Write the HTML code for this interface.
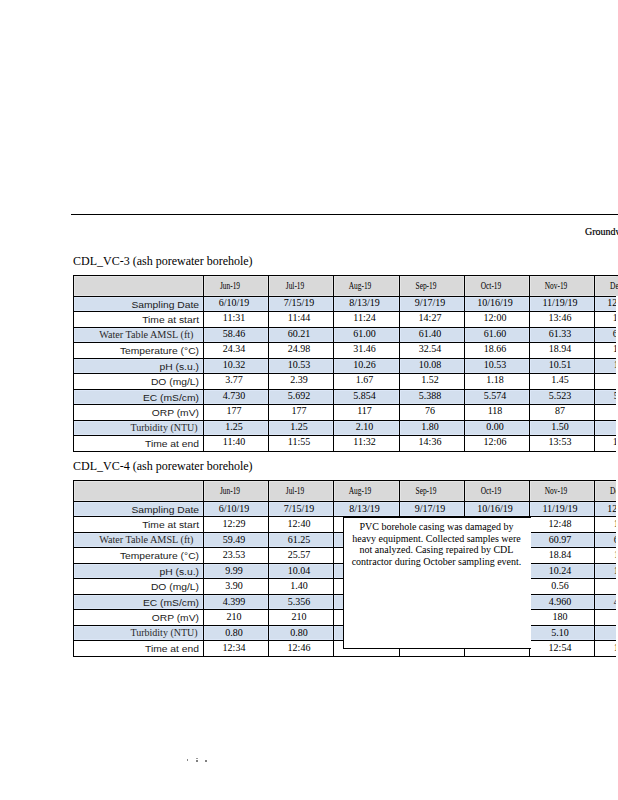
<!DOCTYPE html>
<html><head><meta charset="utf-8"><style>
html,body{margin:0;padding:0;background:#fff;}
body{width:618px;height:800px;position:relative;overflow:hidden;}
.t{position:absolute;white-space:nowrap;line-height:normal;color:#000;}
.clip{position:absolute;left:0;top:0;width:616px;height:800px;overflow:hidden;}
</style></head><body>
<div style="position:absolute;left:71px;top:214px;width:547px;height:1px;background:#000"></div>
<div class="t" style="left:585px;top:226.09px;font-family:'Liberation Serif', serif;font-size:10px;-webkit-text-stroke:0.2px #000;">Groundwater</div>
<div class="t" style="left:73px;top:253.91px;font-family:'Liberation Serif', serif;font-size:12px;">CDL_VC-3 (ash porewater borehole)</div>
<div class="t" style="left:73px;top:458.81px;font-family:'Liberation Serif', serif;font-size:12px;">CDL_VC-4 (ash porewater borehole)</div>
<svg style="position:absolute;left:0;top:0" width="618" height="800" shape-rendering="crispEdges">
<rect x="74" y="276" width="544" height="20" fill="#d9d9d9"/>
<rect x="73" y="275" width="545" height="1" fill="#000"/>
</svg>
<div class="clip">
<svg style="position:absolute;left:0;top:0" width="618" height="800" shape-rendering="crispEdges">
<rect x="74" y="276" width="129" height="20" fill="#e4e4e4"/>
<rect x="75" y="277" width="127" height="18" fill="#d9d9d9"/>
<rect x="74" y="297" width="129" height="14" fill="#dce7f7"/>
<rect x="75" y="298" width="127" height="12" fill="#d3dfee"/>
<rect x="74" y="328" width="129" height="14" fill="#dce7f7"/>
<rect x="75" y="329" width="127" height="12" fill="#d3dfee"/>
<rect x="74" y="359" width="129" height="14" fill="#dce7f7"/>
<rect x="75" y="360" width="127" height="12" fill="#d3dfee"/>
<rect x="74" y="390" width="129" height="14" fill="#dce7f7"/>
<rect x="75" y="391" width="127" height="12" fill="#d3dfee"/>
<rect x="74" y="421" width="129" height="14" fill="#dce7f7"/>
<rect x="75" y="422" width="127" height="12" fill="#d3dfee"/>
<rect x="204" y="276" width="64" height="20" fill="#e4e4e4"/>
<rect x="205" y="277" width="62" height="18" fill="#d9d9d9"/>
<rect x="204" y="297" width="64" height="14" fill="#dce7f7"/>
<rect x="205" y="298" width="62" height="12" fill="#d3dfee"/>
<rect x="204" y="328" width="64" height="14" fill="#dce7f7"/>
<rect x="205" y="329" width="62" height="12" fill="#d3dfee"/>
<rect x="204" y="359" width="64" height="14" fill="#dce7f7"/>
<rect x="205" y="360" width="62" height="12" fill="#d3dfee"/>
<rect x="204" y="390" width="64" height="14" fill="#dce7f7"/>
<rect x="205" y="391" width="62" height="12" fill="#d3dfee"/>
<rect x="204" y="421" width="64" height="14" fill="#dce7f7"/>
<rect x="205" y="422" width="62" height="12" fill="#d3dfee"/>
<rect x="269" y="276" width="64" height="20" fill="#e4e4e4"/>
<rect x="270" y="277" width="62" height="18" fill="#d9d9d9"/>
<rect x="269" y="297" width="64" height="14" fill="#dce7f7"/>
<rect x="270" y="298" width="62" height="12" fill="#d3dfee"/>
<rect x="269" y="328" width="64" height="14" fill="#dce7f7"/>
<rect x="270" y="329" width="62" height="12" fill="#d3dfee"/>
<rect x="269" y="359" width="64" height="14" fill="#dce7f7"/>
<rect x="270" y="360" width="62" height="12" fill="#d3dfee"/>
<rect x="269" y="390" width="64" height="14" fill="#dce7f7"/>
<rect x="270" y="391" width="62" height="12" fill="#d3dfee"/>
<rect x="269" y="421" width="64" height="14" fill="#dce7f7"/>
<rect x="270" y="422" width="62" height="12" fill="#d3dfee"/>
<rect x="334" y="276" width="65" height="20" fill="#e4e4e4"/>
<rect x="335" y="277" width="63" height="18" fill="#d9d9d9"/>
<rect x="334" y="297" width="65" height="14" fill="#dce7f7"/>
<rect x="335" y="298" width="63" height="12" fill="#d3dfee"/>
<rect x="334" y="328" width="65" height="14" fill="#dce7f7"/>
<rect x="335" y="329" width="63" height="12" fill="#d3dfee"/>
<rect x="334" y="359" width="65" height="14" fill="#dce7f7"/>
<rect x="335" y="360" width="63" height="12" fill="#d3dfee"/>
<rect x="334" y="390" width="65" height="14" fill="#dce7f7"/>
<rect x="335" y="391" width="63" height="12" fill="#d3dfee"/>
<rect x="334" y="421" width="65" height="14" fill="#dce7f7"/>
<rect x="335" y="422" width="63" height="12" fill="#d3dfee"/>
<rect x="400" y="276" width="64" height="20" fill="#e4e4e4"/>
<rect x="401" y="277" width="62" height="18" fill="#d9d9d9"/>
<rect x="400" y="297" width="64" height="14" fill="#dce7f7"/>
<rect x="401" y="298" width="62" height="12" fill="#d3dfee"/>
<rect x="400" y="328" width="64" height="14" fill="#dce7f7"/>
<rect x="401" y="329" width="62" height="12" fill="#d3dfee"/>
<rect x="400" y="359" width="64" height="14" fill="#dce7f7"/>
<rect x="401" y="360" width="62" height="12" fill="#d3dfee"/>
<rect x="400" y="390" width="64" height="14" fill="#dce7f7"/>
<rect x="401" y="391" width="62" height="12" fill="#d3dfee"/>
<rect x="400" y="421" width="64" height="14" fill="#dce7f7"/>
<rect x="401" y="422" width="62" height="12" fill="#d3dfee"/>
<rect x="465" y="276" width="64" height="20" fill="#e4e4e4"/>
<rect x="466" y="277" width="62" height="18" fill="#d9d9d9"/>
<rect x="465" y="297" width="64" height="14" fill="#dce7f7"/>
<rect x="466" y="298" width="62" height="12" fill="#d3dfee"/>
<rect x="465" y="328" width="64" height="14" fill="#dce7f7"/>
<rect x="466" y="329" width="62" height="12" fill="#d3dfee"/>
<rect x="465" y="359" width="64" height="14" fill="#dce7f7"/>
<rect x="466" y="360" width="62" height="12" fill="#d3dfee"/>
<rect x="465" y="390" width="64" height="14" fill="#dce7f7"/>
<rect x="466" y="391" width="62" height="12" fill="#d3dfee"/>
<rect x="465" y="421" width="64" height="14" fill="#dce7f7"/>
<rect x="466" y="422" width="62" height="12" fill="#d3dfee"/>
<rect x="530" y="276" width="64" height="20" fill="#e4e4e4"/>
<rect x="531" y="277" width="62" height="18" fill="#d9d9d9"/>
<rect x="530" y="297" width="64" height="14" fill="#dce7f7"/>
<rect x="531" y="298" width="62" height="12" fill="#d3dfee"/>
<rect x="530" y="328" width="64" height="14" fill="#dce7f7"/>
<rect x="531" y="329" width="62" height="12" fill="#d3dfee"/>
<rect x="530" y="359" width="64" height="14" fill="#dce7f7"/>
<rect x="531" y="360" width="62" height="12" fill="#d3dfee"/>
<rect x="530" y="390" width="64" height="14" fill="#dce7f7"/>
<rect x="531" y="391" width="62" height="12" fill="#d3dfee"/>
<rect x="530" y="421" width="64" height="14" fill="#dce7f7"/>
<rect x="531" y="422" width="62" height="12" fill="#d3dfee"/>
<rect x="595" y="276" width="64" height="20" fill="#e4e4e4"/>
<rect x="596" y="277" width="62" height="18" fill="#d9d9d9"/>
<rect x="595" y="297" width="64" height="14" fill="#dce7f7"/>
<rect x="596" y="298" width="62" height="12" fill="#d3dfee"/>
<rect x="595" y="328" width="64" height="14" fill="#dce7f7"/>
<rect x="596" y="329" width="62" height="12" fill="#d3dfee"/>
<rect x="595" y="359" width="64" height="14" fill="#dce7f7"/>
<rect x="596" y="360" width="62" height="12" fill="#d3dfee"/>
<rect x="595" y="390" width="64" height="14" fill="#dce7f7"/>
<rect x="596" y="391" width="62" height="12" fill="#d3dfee"/>
<rect x="595" y="421" width="64" height="14" fill="#dce7f7"/>
<rect x="596" y="422" width="62" height="12" fill="#d3dfee"/>
<rect x="73" y="275" width="587" height="1" fill="#000"/>
<rect x="73" y="296" width="587" height="1" fill="#000"/>
<rect x="73" y="311" width="587" height="1" fill="#000"/>
<rect x="73" y="327" width="587" height="1" fill="#000"/>
<rect x="73" y="342" width="587" height="1" fill="#000"/>
<rect x="73" y="358" width="587" height="1" fill="#000"/>
<rect x="73" y="373" width="587" height="1" fill="#000"/>
<rect x="73" y="389" width="587" height="1" fill="#000"/>
<rect x="73" y="404" width="587" height="1" fill="#000"/>
<rect x="73" y="420" width="587" height="1" fill="#000"/>
<rect x="73" y="435" width="587" height="1" fill="#000"/>
<rect x="73" y="451" width="587" height="1" fill="#000"/>
<rect x="73" y="275" width="1" height="177" fill="#000"/>
<rect x="203" y="275" width="1" height="177" fill="#000"/>
<rect x="268" y="275" width="1" height="177" fill="#000"/>
<rect x="333" y="275" width="1" height="177" fill="#000"/>
<rect x="399" y="275" width="1" height="177" fill="#000"/>
<rect x="464" y="275" width="1" height="177" fill="#000"/>
<rect x="529" y="275" width="1" height="177" fill="#000"/>
<rect x="594" y="275" width="1" height="177" fill="#000"/>
<rect x="659" y="275" width="1" height="177" fill="#000"/>
<rect x="74" y="481" width="129" height="20" fill="#e4e4e4"/>
<rect x="75" y="482" width="127" height="18" fill="#d9d9d9"/>
<rect x="74" y="502" width="129" height="14" fill="#dce7f7"/>
<rect x="75" y="503" width="127" height="12" fill="#d3dfee"/>
<rect x="74" y="533" width="129" height="14" fill="#dce7f7"/>
<rect x="75" y="534" width="127" height="12" fill="#d3dfee"/>
<rect x="74" y="564" width="129" height="14" fill="#dce7f7"/>
<rect x="75" y="565" width="127" height="12" fill="#d3dfee"/>
<rect x="74" y="595" width="129" height="14" fill="#dce7f7"/>
<rect x="75" y="596" width="127" height="12" fill="#d3dfee"/>
<rect x="74" y="626" width="129" height="14" fill="#dce7f7"/>
<rect x="75" y="627" width="127" height="12" fill="#d3dfee"/>
<rect x="204" y="481" width="64" height="20" fill="#e4e4e4"/>
<rect x="205" y="482" width="62" height="18" fill="#d9d9d9"/>
<rect x="204" y="502" width="64" height="14" fill="#dce7f7"/>
<rect x="205" y="503" width="62" height="12" fill="#d3dfee"/>
<rect x="204" y="533" width="64" height="14" fill="#dce7f7"/>
<rect x="205" y="534" width="62" height="12" fill="#d3dfee"/>
<rect x="204" y="564" width="64" height="14" fill="#dce7f7"/>
<rect x="205" y="565" width="62" height="12" fill="#d3dfee"/>
<rect x="204" y="595" width="64" height="14" fill="#dce7f7"/>
<rect x="205" y="596" width="62" height="12" fill="#d3dfee"/>
<rect x="204" y="626" width="64" height="14" fill="#dce7f7"/>
<rect x="205" y="627" width="62" height="12" fill="#d3dfee"/>
<rect x="269" y="481" width="64" height="20" fill="#e4e4e4"/>
<rect x="270" y="482" width="62" height="18" fill="#d9d9d9"/>
<rect x="269" y="502" width="64" height="14" fill="#dce7f7"/>
<rect x="270" y="503" width="62" height="12" fill="#d3dfee"/>
<rect x="269" y="533" width="64" height="14" fill="#dce7f7"/>
<rect x="270" y="534" width="62" height="12" fill="#d3dfee"/>
<rect x="269" y="564" width="64" height="14" fill="#dce7f7"/>
<rect x="270" y="565" width="62" height="12" fill="#d3dfee"/>
<rect x="269" y="595" width="64" height="14" fill="#dce7f7"/>
<rect x="270" y="596" width="62" height="12" fill="#d3dfee"/>
<rect x="269" y="626" width="64" height="14" fill="#dce7f7"/>
<rect x="270" y="627" width="62" height="12" fill="#d3dfee"/>
<rect x="334" y="481" width="65" height="20" fill="#e4e4e4"/>
<rect x="335" y="482" width="63" height="18" fill="#d9d9d9"/>
<rect x="334" y="502" width="65" height="14" fill="#dce7f7"/>
<rect x="335" y="503" width="63" height="12" fill="#d3dfee"/>
<rect x="334" y="533" width="65" height="14" fill="#dce7f7"/>
<rect x="335" y="534" width="63" height="12" fill="#d3dfee"/>
<rect x="334" y="564" width="65" height="14" fill="#dce7f7"/>
<rect x="335" y="565" width="63" height="12" fill="#d3dfee"/>
<rect x="334" y="595" width="65" height="14" fill="#dce7f7"/>
<rect x="335" y="596" width="63" height="12" fill="#d3dfee"/>
<rect x="334" y="626" width="65" height="14" fill="#dce7f7"/>
<rect x="335" y="627" width="63" height="12" fill="#d3dfee"/>
<rect x="400" y="481" width="64" height="20" fill="#e4e4e4"/>
<rect x="401" y="482" width="62" height="18" fill="#d9d9d9"/>
<rect x="400" y="502" width="64" height="14" fill="#dce7f7"/>
<rect x="401" y="503" width="62" height="12" fill="#d3dfee"/>
<rect x="400" y="533" width="64" height="14" fill="#dce7f7"/>
<rect x="401" y="534" width="62" height="12" fill="#d3dfee"/>
<rect x="400" y="564" width="64" height="14" fill="#dce7f7"/>
<rect x="401" y="565" width="62" height="12" fill="#d3dfee"/>
<rect x="400" y="595" width="64" height="14" fill="#dce7f7"/>
<rect x="401" y="596" width="62" height="12" fill="#d3dfee"/>
<rect x="400" y="626" width="64" height="14" fill="#dce7f7"/>
<rect x="401" y="627" width="62" height="12" fill="#d3dfee"/>
<rect x="465" y="481" width="64" height="20" fill="#e4e4e4"/>
<rect x="466" y="482" width="62" height="18" fill="#d9d9d9"/>
<rect x="465" y="502" width="64" height="14" fill="#dce7f7"/>
<rect x="466" y="503" width="62" height="12" fill="#d3dfee"/>
<rect x="465" y="533" width="64" height="14" fill="#dce7f7"/>
<rect x="466" y="534" width="62" height="12" fill="#d3dfee"/>
<rect x="465" y="564" width="64" height="14" fill="#dce7f7"/>
<rect x="466" y="565" width="62" height="12" fill="#d3dfee"/>
<rect x="465" y="595" width="64" height="14" fill="#dce7f7"/>
<rect x="466" y="596" width="62" height="12" fill="#d3dfee"/>
<rect x="465" y="626" width="64" height="14" fill="#dce7f7"/>
<rect x="466" y="627" width="62" height="12" fill="#d3dfee"/>
<rect x="530" y="481" width="64" height="20" fill="#e4e4e4"/>
<rect x="531" y="482" width="62" height="18" fill="#d9d9d9"/>
<rect x="530" y="502" width="64" height="14" fill="#dce7f7"/>
<rect x="531" y="503" width="62" height="12" fill="#d3dfee"/>
<rect x="530" y="533" width="64" height="14" fill="#dce7f7"/>
<rect x="531" y="534" width="62" height="12" fill="#d3dfee"/>
<rect x="530" y="564" width="64" height="14" fill="#dce7f7"/>
<rect x="531" y="565" width="62" height="12" fill="#d3dfee"/>
<rect x="530" y="595" width="64" height="14" fill="#dce7f7"/>
<rect x="531" y="596" width="62" height="12" fill="#d3dfee"/>
<rect x="530" y="626" width="64" height="14" fill="#dce7f7"/>
<rect x="531" y="627" width="62" height="12" fill="#d3dfee"/>
<rect x="595" y="481" width="64" height="20" fill="#e4e4e4"/>
<rect x="596" y="482" width="62" height="18" fill="#d9d9d9"/>
<rect x="595" y="502" width="64" height="14" fill="#dce7f7"/>
<rect x="596" y="503" width="62" height="12" fill="#d3dfee"/>
<rect x="595" y="533" width="64" height="14" fill="#dce7f7"/>
<rect x="596" y="534" width="62" height="12" fill="#d3dfee"/>
<rect x="595" y="564" width="64" height="14" fill="#dce7f7"/>
<rect x="596" y="565" width="62" height="12" fill="#d3dfee"/>
<rect x="595" y="595" width="64" height="14" fill="#dce7f7"/>
<rect x="596" y="596" width="62" height="12" fill="#d3dfee"/>
<rect x="595" y="626" width="64" height="14" fill="#dce7f7"/>
<rect x="596" y="627" width="62" height="12" fill="#d3dfee"/>
<rect x="73" y="480" width="587" height="1" fill="#000"/>
<rect x="73" y="501" width="587" height="1" fill="#000"/>
<rect x="73" y="516" width="587" height="1" fill="#000"/>
<rect x="73" y="532" width="587" height="1" fill="#000"/>
<rect x="73" y="547" width="587" height="1" fill="#000"/>
<rect x="73" y="563" width="587" height="1" fill="#000"/>
<rect x="73" y="578" width="587" height="1" fill="#000"/>
<rect x="73" y="594" width="587" height="1" fill="#000"/>
<rect x="73" y="609" width="587" height="1" fill="#000"/>
<rect x="73" y="625" width="587" height="1" fill="#000"/>
<rect x="73" y="640" width="587" height="1" fill="#000"/>
<rect x="73" y="656" width="587" height="1" fill="#000"/>
<rect x="73" y="480" width="1" height="177" fill="#000"/>
<rect x="203" y="480" width="1" height="177" fill="#000"/>
<rect x="268" y="480" width="1" height="177" fill="#000"/>
<rect x="333" y="480" width="1" height="177" fill="#000"/>
<rect x="399" y="480" width="1" height="177" fill="#000"/>
<rect x="464" y="480" width="1" height="177" fill="#000"/>
<rect x="529" y="480" width="1" height="177" fill="#000"/>
<rect x="594" y="480" width="1" height="177" fill="#000"/>
<rect x="659" y="480" width="1" height="177" fill="#000"/>
<rect x="343" y="516" width="188" height="133" fill="#fff"/>
<rect x="343" y="516" width="1" height="133" fill="#000"/>
<rect x="343" y="516" width="188" height="2" fill="#000"/>
<rect x="343" y="648" width="188" height="1" fill="#000"/>
</svg>
<div class="t" style="left:-101.19999999999999px;width:300px;top:297.45px;padding-top:2px;color:#1a1a1a"><div style="text-align:right;font-family:'Liberation Sans', sans-serif;font-size:10.0px;transform:scale(1.03,0.92);transform-origin:100% 9.05px">Sampling Date</div></div>
<div class="t" style="left:134.0px;width:200px;text-align:center;top:297.09px;font-family:'Liberation Serif', serif;font-size:10px;">6/10/19</div>
<div class="t" style="left:199.0px;width:200px;text-align:center;top:297.09px;font-family:'Liberation Serif', serif;font-size:10px;">7/15/19</div>
<div class="t" style="left:264.5px;width:200px;text-align:center;top:297.09px;font-family:'Liberation Serif', serif;font-size:10px;">8/13/19</div>
<div class="t" style="left:330.0px;width:200px;text-align:center;top:297.09px;font-family:'Liberation Serif', serif;font-size:10px;">9/17/19</div>
<div class="t" style="left:395.0px;width:200px;text-align:center;top:297.09px;font-family:'Liberation Serif', serif;font-size:10px;">10/16/19</div>
<div class="t" style="left:460.0px;width:200px;text-align:center;top:297.09px;font-family:'Liberation Serif', serif;font-size:10px;">11/19/19</div>
<div class="t" style="left:525.0px;width:200px;text-align:center;top:297.09px;font-family:'Liberation Serif', serif;font-size:10px;">12/10/19</div>
<div class="t" style="left:-101.19999999999999px;width:300px;top:312.45px;padding-top:2px;color:#1a1a1a"><div style="text-align:right;font-family:'Liberation Sans', sans-serif;font-size:10.0px;transform:scale(1.03,0.92);transform-origin:100% 9.05px">Time at start</div></div>
<div class="t" style="left:134.0px;width:200px;text-align:center;top:312.09px;font-family:'Liberation Serif', serif;font-size:10px;">11:31</div>
<div class="t" style="left:199.0px;width:200px;text-align:center;top:312.09px;font-family:'Liberation Serif', serif;font-size:10px;">11:44</div>
<div class="t" style="left:264.5px;width:200px;text-align:center;top:312.09px;font-family:'Liberation Serif', serif;font-size:10px;">11:24</div>
<div class="t" style="left:330.0px;width:200px;text-align:center;top:312.09px;font-family:'Liberation Serif', serif;font-size:10px;">14:27</div>
<div class="t" style="left:395.0px;width:200px;text-align:center;top:312.09px;font-family:'Liberation Serif', serif;font-size:10px;">12:00</div>
<div class="t" style="left:460.0px;width:200px;text-align:center;top:312.09px;font-family:'Liberation Serif', serif;font-size:10px;">13:46</div>
<div class="t" style="left:524.0px;width:200px;text-align:center;top:312.09px;font-family:'Liberation Serif', serif;font-size:10px;">11:40</div>
<div class="t" style="left:-106.5px;width:300px;text-align:right;top:328.61px;font-family:'Liberation Serif', serif;font-size:10.2px;color:#2a2a2a;">Water Table AMSL (ft)</div>
<div class="t" style="left:134.0px;width:200px;text-align:center;top:328.09px;font-family:'Liberation Serif', serif;font-size:10px;">58.46</div>
<div class="t" style="left:199.0px;width:200px;text-align:center;top:328.09px;font-family:'Liberation Serif', serif;font-size:10px;">60.21</div>
<div class="t" style="left:264.5px;width:200px;text-align:center;top:328.09px;font-family:'Liberation Serif', serif;font-size:10px;">61.00</div>
<div class="t" style="left:330.0px;width:200px;text-align:center;top:328.09px;font-family:'Liberation Serif', serif;font-size:10px;">61.40</div>
<div class="t" style="left:395.0px;width:200px;text-align:center;top:328.09px;font-family:'Liberation Serif', serif;font-size:10px;">61.60</div>
<div class="t" style="left:460.0px;width:200px;text-align:center;top:328.09px;font-family:'Liberation Serif', serif;font-size:10px;">61.33</div>
<div class="t" style="left:524.0px;width:200px;text-align:center;top:328.09px;font-family:'Liberation Serif', serif;font-size:10px;">61.20</div>
<div class="t" style="left:-101.19999999999999px;width:300px;top:343.45px;padding-top:2px;color:#1a1a1a"><div style="text-align:right;font-family:'Liberation Sans', sans-serif;font-size:10.0px;transform:scale(1.03,0.92);transform-origin:100% 9.05px">Temperature (°C)</div></div>
<div class="t" style="left:134.0px;width:200px;text-align:center;top:343.09px;font-family:'Liberation Serif', serif;font-size:10px;">24.34</div>
<div class="t" style="left:199.0px;width:200px;text-align:center;top:343.09px;font-family:'Liberation Serif', serif;font-size:10px;">24.98</div>
<div class="t" style="left:264.5px;width:200px;text-align:center;top:343.09px;font-family:'Liberation Serif', serif;font-size:10px;">31.46</div>
<div class="t" style="left:330.0px;width:200px;text-align:center;top:343.09px;font-family:'Liberation Serif', serif;font-size:10px;">32.54</div>
<div class="t" style="left:395.0px;width:200px;text-align:center;top:343.09px;font-family:'Liberation Serif', serif;font-size:10px;">18.66</div>
<div class="t" style="left:460.0px;width:200px;text-align:center;top:343.09px;font-family:'Liberation Serif', serif;font-size:10px;">18.94</div>
<div class="t" style="left:524.0px;width:200px;text-align:center;top:343.09px;font-family:'Liberation Serif', serif;font-size:10px;">11.50</div>
<div class="t" style="left:-101.19999999999999px;width:300px;top:359.45px;padding-top:2px;color:#1a1a1a"><div style="text-align:right;font-family:'Liberation Sans', sans-serif;font-size:10.0px;transform:scale(1.03,0.92);transform-origin:100% 9.05px">pH (s.u.)</div></div>
<div class="t" style="left:134.0px;width:200px;text-align:center;top:359.09px;font-family:'Liberation Serif', serif;font-size:10px;">10.32</div>
<div class="t" style="left:199.0px;width:200px;text-align:center;top:359.09px;font-family:'Liberation Serif', serif;font-size:10px;">10.53</div>
<div class="t" style="left:264.5px;width:200px;text-align:center;top:359.09px;font-family:'Liberation Serif', serif;font-size:10px;">10.26</div>
<div class="t" style="left:330.0px;width:200px;text-align:center;top:359.09px;font-family:'Liberation Serif', serif;font-size:10px;">10.08</div>
<div class="t" style="left:395.0px;width:200px;text-align:center;top:359.09px;font-family:'Liberation Serif', serif;font-size:10px;">10.53</div>
<div class="t" style="left:460.0px;width:200px;text-align:center;top:359.09px;font-family:'Liberation Serif', serif;font-size:10px;">10.51</div>
<div class="t" style="left:525.0px;width:200px;text-align:center;top:359.09px;font-family:'Liberation Serif', serif;font-size:10px;">10.40</div>
<div class="t" style="left:-101.19999999999999px;width:300px;top:374.45px;padding-top:2px;color:#1a1a1a"><div style="text-align:right;font-family:'Liberation Sans', sans-serif;font-size:10.0px;transform:scale(1.03,0.92);transform-origin:100% 9.05px">DO (mg/L)</div></div>
<div class="t" style="left:134.0px;width:200px;text-align:center;top:374.09px;font-family:'Liberation Serif', serif;font-size:10px;">3.77</div>
<div class="t" style="left:199.0px;width:200px;text-align:center;top:374.09px;font-family:'Liberation Serif', serif;font-size:10px;">2.39</div>
<div class="t" style="left:264.5px;width:200px;text-align:center;top:374.09px;font-family:'Liberation Serif', serif;font-size:10px;">1.67</div>
<div class="t" style="left:330.0px;width:200px;text-align:center;top:374.09px;font-family:'Liberation Serif', serif;font-size:10px;">1.52</div>
<div class="t" style="left:395.0px;width:200px;text-align:center;top:374.09px;font-family:'Liberation Serif', serif;font-size:10px;">1.18</div>
<div class="t" style="left:460.0px;width:200px;text-align:center;top:374.09px;font-family:'Liberation Serif', serif;font-size:10px;">1.45</div>
<div class="t" style="left:-101.19999999999999px;width:300px;top:390.45px;padding-top:2px;color:#1a1a1a"><div style="text-align:right;font-family:'Liberation Sans', sans-serif;font-size:10.0px;transform:scale(1.03,0.92);transform-origin:100% 9.05px">EC (mS/cm)</div></div>
<div class="t" style="left:134.0px;width:200px;text-align:center;top:390.09px;font-family:'Liberation Serif', serif;font-size:10px;">4.730</div>
<div class="t" style="left:199.0px;width:200px;text-align:center;top:390.09px;font-family:'Liberation Serif', serif;font-size:10px;">5.692</div>
<div class="t" style="left:264.5px;width:200px;text-align:center;top:390.09px;font-family:'Liberation Serif', serif;font-size:10px;">5.854</div>
<div class="t" style="left:330.0px;width:200px;text-align:center;top:390.09px;font-family:'Liberation Serif', serif;font-size:10px;">5.388</div>
<div class="t" style="left:395.0px;width:200px;text-align:center;top:390.09px;font-family:'Liberation Serif', serif;font-size:10px;">5.574</div>
<div class="t" style="left:460.0px;width:200px;text-align:center;top:390.09px;font-family:'Liberation Serif', serif;font-size:10px;">5.523</div>
<div class="t" style="left:525.0px;width:200px;text-align:center;top:390.09px;font-family:'Liberation Serif', serif;font-size:10px;">5.400</div>
<div class="t" style="left:-101.19999999999999px;width:300px;top:405.45px;padding-top:2px;color:#1a1a1a"><div style="text-align:right;font-family:'Liberation Sans', sans-serif;font-size:10.0px;transform:scale(1.03,0.92);transform-origin:100% 9.05px">ORP (mV)</div></div>
<div class="t" style="left:134.0px;width:200px;text-align:center;top:405.09px;font-family:'Liberation Serif', serif;font-size:10px;">177</div>
<div class="t" style="left:199.0px;width:200px;text-align:center;top:405.09px;font-family:'Liberation Serif', serif;font-size:10px;">177</div>
<div class="t" style="left:264.5px;width:200px;text-align:center;top:405.09px;font-family:'Liberation Serif', serif;font-size:10px;">117</div>
<div class="t" style="left:330.0px;width:200px;text-align:center;top:405.09px;font-family:'Liberation Serif', serif;font-size:10px;">76</div>
<div class="t" style="left:395.0px;width:200px;text-align:center;top:405.09px;font-family:'Liberation Serif', serif;font-size:10px;">118</div>
<div class="t" style="left:460.0px;width:200px;text-align:center;top:405.09px;font-family:'Liberation Serif', serif;font-size:10px;">87</div>
<div class="t" style="left:-102.4px;width:300px;text-align:right;top:422.39px;font-family:'Liberation Serif', serif;font-size:10px;color:#2a2a2a;">Turbidity (NTU)</div>
<div class="t" style="left:134.0px;width:200px;text-align:center;top:421.09px;font-family:'Liberation Serif', serif;font-size:10px;">1.25</div>
<div class="t" style="left:199.0px;width:200px;text-align:center;top:421.09px;font-family:'Liberation Serif', serif;font-size:10px;">1.25</div>
<div class="t" style="left:264.5px;width:200px;text-align:center;top:421.09px;font-family:'Liberation Serif', serif;font-size:10px;">2.10</div>
<div class="t" style="left:330.0px;width:200px;text-align:center;top:421.09px;font-family:'Liberation Serif', serif;font-size:10px;">1.80</div>
<div class="t" style="left:395.0px;width:200px;text-align:center;top:421.09px;font-family:'Liberation Serif', serif;font-size:10px;">0.00</div>
<div class="t" style="left:460.0px;width:200px;text-align:center;top:421.09px;font-family:'Liberation Serif', serif;font-size:10px;">1.50</div>
<div class="t" style="left:-101.19999999999999px;width:300px;top:436.45px;padding-top:2px;color:#1a1a1a"><div style="text-align:right;font-family:'Liberation Sans', sans-serif;font-size:10.0px;transform:scale(1.03,0.92);transform-origin:100% 9.05px">Time at end</div></div>
<div class="t" style="left:134.0px;width:200px;text-align:center;top:436.09px;font-family:'Liberation Serif', serif;font-size:10px;">11:40</div>
<div class="t" style="left:199.0px;width:200px;text-align:center;top:436.09px;font-family:'Liberation Serif', serif;font-size:10px;">11:55</div>
<div class="t" style="left:264.5px;width:200px;text-align:center;top:436.09px;font-family:'Liberation Serif', serif;font-size:10px;">11:32</div>
<div class="t" style="left:330.0px;width:200px;text-align:center;top:436.09px;font-family:'Liberation Serif', serif;font-size:10px;">14:36</div>
<div class="t" style="left:395.0px;width:200px;text-align:center;top:436.09px;font-family:'Liberation Serif', serif;font-size:10px;">12:06</div>
<div class="t" style="left:460.0px;width:200px;text-align:center;top:436.09px;font-family:'Liberation Serif', serif;font-size:10px;">13:53</div>
<div class="t" style="left:524.0px;width:200px;text-align:center;top:436.09px;font-family:'Liberation Serif', serif;font-size:10px;">11:50</div>
<div class="t" style="left:129.8px;width:200px;text-align:center;top:485.09px;font-family:'Liberation Serif', serif;font-size:10px;transform:scaleX(0.74);">Jun-19</div>
<div class="t" style="left:194.8px;width:200px;text-align:center;top:485.09px;font-family:'Liberation Serif', serif;font-size:10px;transform:scaleX(0.74);">Jul-19</div>
<div class="t" style="left:260.3px;width:200px;text-align:center;top:485.09px;font-family:'Liberation Serif', serif;font-size:10px;transform:scaleX(0.74);">Aug-19</div>
<div class="t" style="left:325.8px;width:200px;text-align:center;top:485.09px;font-family:'Liberation Serif', serif;font-size:10px;transform:scaleX(0.74);">Sep-19</div>
<div class="t" style="left:390.8px;width:200px;text-align:center;top:485.09px;font-family:'Liberation Serif', serif;font-size:10px;transform:scaleX(0.74);">Oct-19</div>
<div class="t" style="left:455.79999999999995px;width:200px;text-align:center;top:485.09px;font-family:'Liberation Serif', serif;font-size:10px;transform:scaleX(0.74);">Nov-19</div>
<div class="t" style="left:520.8px;width:200px;text-align:center;top:485.09px;font-family:'Liberation Serif', serif;font-size:10px;transform:scaleX(0.74);">Dec-19</div>
<div class="t" style="left:-101.19999999999999px;width:300px;top:502.45px;padding-top:2px;color:#1a1a1a"><div style="text-align:right;font-family:'Liberation Sans', sans-serif;font-size:10.0px;transform:scale(1.03,0.92);transform-origin:100% 9.05px">Sampling Date</div></div>
<div class="t" style="left:134.0px;width:200px;text-align:center;top:503.09px;font-family:'Liberation Serif', serif;font-size:10px;">6/10/19</div>
<div class="t" style="left:199.0px;width:200px;text-align:center;top:503.09px;font-family:'Liberation Serif', serif;font-size:10px;">7/15/19</div>
<div class="t" style="left:264.5px;width:200px;text-align:center;top:503.09px;font-family:'Liberation Serif', serif;font-size:10px;">8/13/19</div>
<div class="t" style="left:330.0px;width:200px;text-align:center;top:503.09px;font-family:'Liberation Serif', serif;font-size:10px;">9/17/19</div>
<div class="t" style="left:395.0px;width:200px;text-align:center;top:503.09px;font-family:'Liberation Serif', serif;font-size:10px;">10/16/19</div>
<div class="t" style="left:460.0px;width:200px;text-align:center;top:503.09px;font-family:'Liberation Serif', serif;font-size:10px;">11/19/19</div>
<div class="t" style="left:525.0px;width:200px;text-align:center;top:503.09px;font-family:'Liberation Serif', serif;font-size:10px;">12/10/19</div>
<div class="t" style="left:-101.19999999999999px;width:300px;top:517.45px;padding-top:2px;color:#1a1a1a"><div style="text-align:right;font-family:'Liberation Sans', sans-serif;font-size:10.0px;transform:scale(1.03,0.92);transform-origin:100% 9.05px">Time at start</div></div>
<div class="t" style="left:134.0px;width:200px;text-align:center;top:518.09px;font-family:'Liberation Serif', serif;font-size:10px;">12:29</div>
<div class="t" style="left:199.0px;width:200px;text-align:center;top:518.09px;font-family:'Liberation Serif', serif;font-size:10px;">12:40</div>
<div class="t" style="left:460.0px;width:200px;text-align:center;top:518.09px;font-family:'Liberation Serif', serif;font-size:10px;">12:48</div>
<div class="t" style="left:525.0px;width:200px;text-align:center;top:518.09px;font-family:'Liberation Serif', serif;font-size:10px;">11:40</div>
<div class="t" style="left:-106.5px;width:300px;text-align:right;top:533.61px;font-family:'Liberation Serif', serif;font-size:10.2px;color:#2a2a2a;">Water Table AMSL (ft)</div>
<div class="t" style="left:134.0px;width:200px;text-align:center;top:534.09px;font-family:'Liberation Serif', serif;font-size:10px;">59.49</div>
<div class="t" style="left:199.0px;width:200px;text-align:center;top:534.09px;font-family:'Liberation Serif', serif;font-size:10px;">61.25</div>
<div class="t" style="left:460.0px;width:200px;text-align:center;top:534.09px;font-family:'Liberation Serif', serif;font-size:10px;">60.97</div>
<div class="t" style="left:525.0px;width:200px;text-align:center;top:534.09px;font-family:'Liberation Serif', serif;font-size:10px;">61.20</div>
<div class="t" style="left:-101.19999999999999px;width:300px;top:548.45px;padding-top:2px;color:#1a1a1a"><div style="text-align:right;font-family:'Liberation Sans', sans-serif;font-size:10.0px;transform:scale(1.03,0.92);transform-origin:100% 9.05px">Temperature (°C)</div></div>
<div class="t" style="left:134.0px;width:200px;text-align:center;top:549.09px;font-family:'Liberation Serif', serif;font-size:10px;">23.53</div>
<div class="t" style="left:199.0px;width:200px;text-align:center;top:549.09px;font-family:'Liberation Serif', serif;font-size:10px;">25.57</div>
<div class="t" style="left:460.0px;width:200px;text-align:center;top:549.09px;font-family:'Liberation Serif', serif;font-size:10px;">18.84</div>
<div class="t" style="left:525.0px;width:200px;text-align:center;top:549.09px;font-family:'Liberation Serif', serif;font-size:10px;">11.50</div>
<div class="t" style="left:-101.19999999999999px;width:300px;top:564.45px;padding-top:2px;color:#1a1a1a"><div style="text-align:right;font-family:'Liberation Sans', sans-serif;font-size:10.0px;transform:scale(1.03,0.92);transform-origin:100% 9.05px">pH (s.u.)</div></div>
<div class="t" style="left:134.0px;width:200px;text-align:center;top:565.09px;font-family:'Liberation Serif', serif;font-size:10px;">9.99</div>
<div class="t" style="left:199.0px;width:200px;text-align:center;top:565.09px;font-family:'Liberation Serif', serif;font-size:10px;">10.04</div>
<div class="t" style="left:460.0px;width:200px;text-align:center;top:565.09px;font-family:'Liberation Serif', serif;font-size:10px;">10.24</div>
<div class="t" style="left:525.0px;width:200px;text-align:center;top:565.09px;font-family:'Liberation Serif', serif;font-size:10px;">10.40</div>
<div class="t" style="left:-101.19999999999999px;width:300px;top:579.45px;padding-top:2px;color:#1a1a1a"><div style="text-align:right;font-family:'Liberation Sans', sans-serif;font-size:10.0px;transform:scale(1.03,0.92);transform-origin:100% 9.05px">DO (mg/L)</div></div>
<div class="t" style="left:134.0px;width:200px;text-align:center;top:580.09px;font-family:'Liberation Serif', serif;font-size:10px;">3.90</div>
<div class="t" style="left:199.0px;width:200px;text-align:center;top:580.09px;font-family:'Liberation Serif', serif;font-size:10px;">1.40</div>
<div class="t" style="left:460.0px;width:200px;text-align:center;top:580.09px;font-family:'Liberation Serif', serif;font-size:10px;">0.56</div>
<div class="t" style="left:-101.19999999999999px;width:300px;top:595.45px;padding-top:2px;color:#1a1a1a"><div style="text-align:right;font-family:'Liberation Sans', sans-serif;font-size:10.0px;transform:scale(1.03,0.92);transform-origin:100% 9.05px">EC (mS/cm)</div></div>
<div class="t" style="left:134.0px;width:200px;text-align:center;top:596.09px;font-family:'Liberation Serif', serif;font-size:10px;">4.399</div>
<div class="t" style="left:199.0px;width:200px;text-align:center;top:596.09px;font-family:'Liberation Serif', serif;font-size:10px;">5.356</div>
<div class="t" style="left:460.0px;width:200px;text-align:center;top:596.09px;font-family:'Liberation Serif', serif;font-size:10px;">4.960</div>
<div class="t" style="left:525.0px;width:200px;text-align:center;top:596.09px;font-family:'Liberation Serif', serif;font-size:10px;">4.400</div>
<div class="t" style="left:-101.19999999999999px;width:300px;top:610.45px;padding-top:2px;color:#1a1a1a"><div style="text-align:right;font-family:'Liberation Sans', sans-serif;font-size:10.0px;transform:scale(1.03,0.92);transform-origin:100% 9.05px">ORP (mV)</div></div>
<div class="t" style="left:134.0px;width:200px;text-align:center;top:611.09px;font-family:'Liberation Serif', serif;font-size:10px;">210</div>
<div class="t" style="left:199.0px;width:200px;text-align:center;top:611.09px;font-family:'Liberation Serif', serif;font-size:10px;">210</div>
<div class="t" style="left:460.0px;width:200px;text-align:center;top:611.09px;font-family:'Liberation Serif', serif;font-size:10px;">180</div>
<div class="t" style="left:-102.4px;width:300px;text-align:right;top:627.39px;font-family:'Liberation Serif', serif;font-size:10px;color:#2a2a2a;">Turbidity (NTU)</div>
<div class="t" style="left:134.0px;width:200px;text-align:center;top:627.09px;font-family:'Liberation Serif', serif;font-size:10px;">0.80</div>
<div class="t" style="left:199.0px;width:200px;text-align:center;top:627.09px;font-family:'Liberation Serif', serif;font-size:10px;">0.80</div>
<div class="t" style="left:460.0px;width:200px;text-align:center;top:627.09px;font-family:'Liberation Serif', serif;font-size:10px;">5.10</div>
<div class="t" style="left:-101.19999999999999px;width:300px;top:641.45px;padding-top:2px;color:#1a1a1a"><div style="text-align:right;font-family:'Liberation Sans', sans-serif;font-size:10.0px;transform:scale(1.03,0.92);transform-origin:100% 9.05px">Time at end</div></div>
<div class="t" style="left:134.0px;width:200px;text-align:center;top:642.09px;font-family:'Liberation Serif', serif;font-size:10px;">12:34</div>
<div class="t" style="left:199.0px;width:200px;text-align:center;top:642.09px;font-family:'Liberation Serif', serif;font-size:10px;">12:46</div>
<div class="t" style="left:460.0px;width:200px;text-align:center;top:642.09px;font-family:'Liberation Serif', serif;font-size:10px;">12:54</div>
<div class="t" style="left:525.0px;width:200px;text-align:center;top:642.09px;font-family:'Liberation Serif', serif;font-size:10px;">11:50</div>
<div class="t" style="left:336.5px;width:200px;text-align:center;top:521.09px;font-family:'Liberation Serif', serif;font-size:10px;">PVC borehole casing was damaged by</div>
<div class="t" style="left:336.5px;width:200px;text-align:center;top:533.09px;font-family:'Liberation Serif', serif;font-size:10px;">heavy equipment. Collected samples were</div>
<div class="t" style="left:336.5px;width:200px;text-align:center;top:544.09px;font-family:'Liberation Serif', serif;font-size:10px;">not analyzed. Casing repaired by CDL</div>
<div class="t" style="left:336.5px;width:200px;text-align:center;top:556.09px;font-family:'Liberation Serif', serif;font-size:10px;">contractor during October sampling event.</div>
</div>
<div class="t" style="left:129.8px;width:200px;text-align:center;top:280.09px;font-family:'Liberation Serif', serif;font-size:10px;transform:scaleX(0.74);">Jun-19</div>
<div class="t" style="left:194.8px;width:200px;text-align:center;top:280.09px;font-family:'Liberation Serif', serif;font-size:10px;transform:scaleX(0.74);">Jul-19</div>
<div class="t" style="left:260.3px;width:200px;text-align:center;top:280.09px;font-family:'Liberation Serif', serif;font-size:10px;transform:scaleX(0.74);">Aug-19</div>
<div class="t" style="left:325.8px;width:200px;text-align:center;top:280.09px;font-family:'Liberation Serif', serif;font-size:10px;transform:scaleX(0.74);">Sep-19</div>
<div class="t" style="left:390.8px;width:200px;text-align:center;top:280.09px;font-family:'Liberation Serif', serif;font-size:10px;transform:scaleX(0.74);">Oct-19</div>
<div class="t" style="left:455.79999999999995px;width:200px;text-align:center;top:280.09px;font-family:'Liberation Serif', serif;font-size:10px;transform:scaleX(0.74);">Nov-19</div>
<div class="t" style="left:520.8px;width:200px;text-align:center;top:280.09px;font-family:'Liberation Serif', serif;font-size:10px;transform:scaleX(0.74);">Dec-19</div>
<div style="position:absolute;left:187px;top:759px;width:1px;height:2px;background:#888"></div>
<div style="position:absolute;left:196px;top:758px;width:2px;height:1px;background:#999"></div>
<div style="position:absolute;left:196px;top:760px;width:2px;height:2px;background:#808080"></div>
<div style="position:absolute;left:205px;top:760px;width:2px;height:2px;background:#808080"></div>
</body></html>
